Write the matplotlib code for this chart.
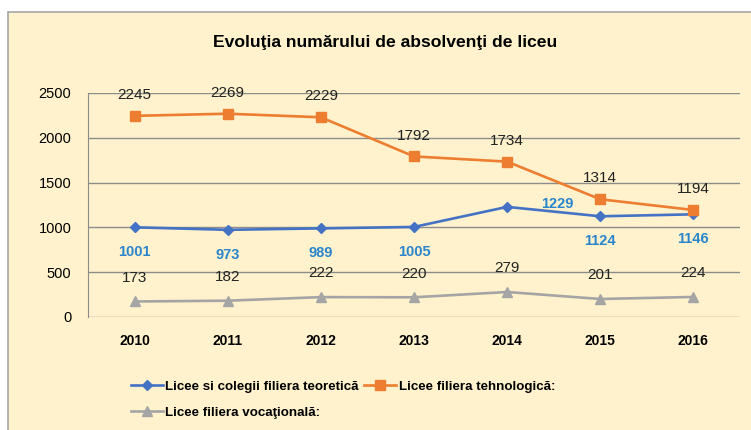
import matplotlib.pyplot as plt
from matplotlib.patches import Rectangle

# ===== DATA =====
years = ["2010", "2011", "2012", "2013", "2014", "2015", "2016"]
teoretica = [1001, 973, 989, 1005, 1229, 1124, 1146]
tehnologica = [2245, 2269, 2229, 1792, 1734, 1314, 1194]
vocationala = [173, 182, 222, 220, 279, 201, 224]

names = ["Licee si colegii filiera teoretică",
         "Licee filiera tehnologică:",
         "Licee filiera vocaţională:"]

plt.rcParams['font.family'] = ["Liberation Sans", "DejaVu Sans"]

BG = "#FFF2CC"
BLUE = "#4472C4"
ORANGE = "#ED7D31"
GRAY = "#A5A5A5"

fig = plt.figure(figsize=(7.51, 4.30), dpi=100)
fig.patch.set_facecolor("white")
# chart area panel (cream, grey border)
fig.patches.append(Rectangle((8 / 751, -0.01), 1.0, (430 - 12) / 430 + 0.01,
                             transform=fig.transFigure, facecolor=BG,
                             edgecolor="#A6A6A6", linewidth=1.2, zorder=0))

ax = fig.add_axes([88 / 751, (430 - 317) / 430, (740 - 88) / 751, (317 - 93) / 430])
ax.set_zorder(2)
ax.patch.set_alpha(0)

x = list(range(len(years)))
l1, = ax.plot(x, teoretica, color=BLUE, lw=1.9, marker="D", ms=5.5, zorder=3)
l2, = ax.plot(x, tehnologica, color=ORANGE, lw=1.9, marker="s", ms=7.5, zorder=3)
l3, = ax.plot(x, vocationala, color=GRAY, lw=1.9, marker="^", ms=7.5, zorder=3)

# data labels
for i, v in enumerate(tehnologica):
    ax.annotate(str(v), (i, v), xytext=(0, 15), textcoords="offset points",
                ha="center", va="center", fontsize=11, color="#222222")
for i, v in enumerate(vocationala):
    ax.annotate(str(v), (i, v), xytext=(0, 17), textcoords="offset points",
                ha="center", va="center", fontsize=11, color="#222222")
for i, v in enumerate(teoretica):
    off = (0, -18)
    if years[i] == "2014":
        off = (36, 2)
    ax.annotate(str(v), (i, v), xytext=off, textcoords="offset points",
                ha="center", va="center", fontsize=10.5, fontweight="bold",
                color="#2A85CC")

ax.set_xlim(-0.5, len(years) - 0.5)
ax.set_ylim(0, 2500)
ax.set_yticks([0, 500, 1000, 1500, 2000, 2500])
ax.set_xticks(x)
ax.set_xticklabels(years, fontweight="bold", fontsize=10)
for t in ax.get_yticklabels():
    t.set_fontsize(10.5)
ax.tick_params(length=0)
ax.tick_params(axis="y", pad=12)
ax.tick_params(axis="x", pad=12)
ax.grid(axis="y", color="#8C8C8C", lw=1.0)
ax.set_axisbelow(True)
for s in ["top", "right", "bottom"]:
    ax.spines[s].set_visible(False)
ax.spines["left"].set_color("#8C8C8C")

fig.text(385 / 751, 1 - 42 / 430, "Evoluţia numărului de absolvenţi de liceu",
         ha="center", va="center", fontsize=12.6, fontweight="bold")

leg = fig.legend([l1, l3, l2], [names[0], names[2], names[1]], ncol=2,
                 loc="upper left", bbox_to_anchor=(124 / 751, 1 - 374 / 430),
                 frameon=False, handlelength=2.4, handletextpad=0.2,
                 columnspacing=0.4, labelspacing=1.0, borderpad=0,
                 prop={"weight": "bold", "size": 9.6})

fig.savefig("out.png", dpi=100, facecolor=fig.get_facecolor())
